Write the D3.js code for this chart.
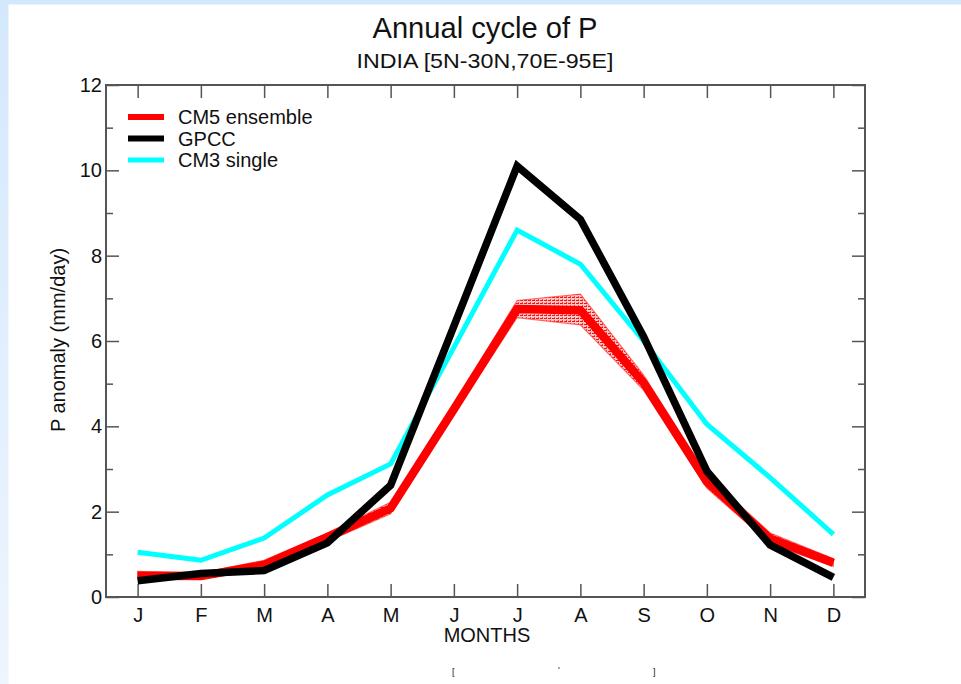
<!DOCTYPE html>
<html>
<head>
<meta charset="utf-8">
<script src="https://cdn.jsdelivr.net/npm/d3@7"></script>
<style>
  html, body { margin: 0; padding: 0; background: #fff; }
  svg { display: block; }
  text { font-family: "Liberation Sans", Arial, sans-serif; fill: #111; }
</style>
</head>
<body>
<svg id="chart" width="961" height="684"></svg>
<script>
// Monthly climatology of precipitation over India (mm/day)
const months = ["J","F","M","A","M","J","J","A","S","O","N","D"];
const monthIndex = [1,2,3,4,5,6,7,8,9,10,11,12];
const yTicks = [0,2,4,6,8,10,12];
const yMinor = [1,3,5,7,9,11];

const gpcc      = [0.38,0.55,0.62,1.27,2.62,6.35,10.1,8.85,6.1,2.95,1.22,0.46];
const cm3Single = [1.05,0.86,1.38,2.39,3.12,5.85,8.6,7.8,6.0,4.05,2.8,1.47];
const cm5Mean   = [0.5,0.49,0.75,1.4,2.08,4.4,6.75,6.72,5.02,2.7,1.37,0.8];
const cm5Low    = [0.43,0.42,0.66,1.3,1.95,4.28,6.55,6.38,4.85,2.55,1.25,0.72];
const cm5High   = [0.6,0.56,0.86,1.5,2.22,4.52,6.95,7.1,5.2,2.86,1.5,0.9];

const legendItems = [
  {label: "CM5 ensemble", color: "#ff0000", width: 6},
  {label: "GPCC",         color: "#000000", width: 6},
  {label: "CM3 single",   color: "#00ffff", width: 5}
];

const svg = d3.select("#chart");
const W = 961, H = 684;

// slide background strips
const defs = svg.append("defs");
const grad = defs.append("linearGradient").attr("id", "sideGrad")
  .attr("x1", 0).attr("y1", 0).attr("x2", 0).attr("y2", 1);
grad.append("stop").attr("offset", "0%").attr("stop-color", "#d4e8fd");
grad.append("stop").attr("offset", "100%").attr("stop-color", "#edf5fe");
svg.append("rect").attr("x", 0).attr("y", 0).attr("width", W).attr("height", H).attr("fill", "#fff");
svg.append("rect").attr("x", 0).attr("y", 0).attr("width", W).attr("height", 4.5).attr("fill", "#d4e8fd");
svg.append("rect").attr("x", 0).attr("y", 0).attr("width", 8.5).attr("height", H).attr("fill", "url(#sideGrad)");

// stipple texture for the ensemble spread
const pat = defs.append("pattern").attr("id", "spread")
  .attr("patternUnits", "userSpaceOnUse").attr("width", 4).attr("height", 3);
pat.append("rect").attr("width", 4).attr("height", 3).attr("fill", "#ffc8c8");
pat.append("rect").attr("x", 0).attr("y", 0).attr("width", 3).attr("height", 1).attr("fill", "#ff1010");
pat.append("rect").attr("x", 2).attr("y", 2).attr("width", 1).attr("height", 1).attr("fill", "#ff4040");

const plotL = 106, plotR = 865, plotT = 85, plotB = 597;
const x = d3.scaleLinear().domain([0.5, 12.5]).range([plotL, plotR]);
const y = d3.scaleLinear().domain([0, 12]).range([plotB, plotT]);

const axisColor = "#555";
const labelSize = 20;

// titles
svg.append("text").attr("x", 485).attr("y", 38).attr("text-anchor", "middle")
  .attr("font-size", 29).attr("textLength", 225).attr("lengthAdjust", "spacingAndGlyphs")
  .text("Annual cycle of P");
svg.append("text").attr("x", 485).attr("y", 68).attr("text-anchor", "middle")
  .attr("font-size", 21).attr("textLength", 257).attr("lengthAdjust", "spacingAndGlyphs")
  .text("INDIA [5N-30N,70E-95E]");

// axes: ticks point inward on all four sides
const g = svg.append("g");
g.append("g").attr("transform", `translate(0,${plotB})`)
  .call(d3.axisBottom(x).tickValues(monthIndex).tickFormat((d, i) => months[i]).tickSize(-13))
  .call(a => a.select(".domain").remove())
  .call(a => a.selectAll("line").attr("stroke", axisColor).attr("stroke-width", 1.5))
  .call(a => a.selectAll("text").attr("font-size", labelSize).attr("fill", "#111").attr("dy", null).attr("y", 25));
g.append("g").attr("transform", `translate(0,${plotT})`)
  .call(d3.axisTop(x).tickValues(monthIndex).tickFormat("").tickSize(-13))
  .call(a => a.select(".domain").remove())
  .call(a => a.selectAll("line").attr("stroke", axisColor).attr("stroke-width", 1.5));
g.append("g").attr("transform", `translate(${plotL},0)`)
  .call(d3.axisLeft(y).tickValues(yTicks).tickFormat(d3.format("d")).tickSize(-13))
  .call(a => a.select(".domain").remove())
  .call(a => a.selectAll("line").attr("stroke", axisColor).attr("stroke-width", 1.5))
  .call(a => a.selectAll("text").attr("font-size", labelSize).attr("fill", "#111").attr("x", -4));
g.append("g").attr("transform", `translate(${plotL},0)`)
  .call(d3.axisLeft(y).tickValues(yMinor).tickFormat("").tickSize(-7))
  .call(a => a.select(".domain").remove())
  .call(a => a.selectAll("line").attr("stroke", axisColor).attr("stroke-width", 1.5));
g.append("g").attr("transform", `translate(${plotR},0)`)
  .call(d3.axisRight(y).tickValues(yTicks).tickFormat("").tickSize(-13))
  .call(a => a.select(".domain").remove())
  .call(a => a.selectAll("line").attr("stroke", axisColor).attr("stroke-width", 1.5));
g.append("g").attr("transform", `translate(${plotR},0)`)
  .call(d3.axisRight(y).tickValues(yMinor).tickFormat("").tickSize(-7))
  .call(a => a.select(".domain").remove())
  .call(a => a.selectAll("line").attr("stroke", axisColor).attr("stroke-width", 1.5));

// frame
svg.append("rect").attr("x", plotL).attr("y", plotT)
  .attr("width", plotR - plotL).attr("height", plotB - plotT)
  .attr("fill", "none").attr("stroke", axisColor).attr("stroke-width", 2);

// axis titles
svg.append("text").attr("x", 487).attr("y", 642).attr("text-anchor", "middle")
  .attr("font-size", 20).text("MONTHS");
svg.append("text").attr("transform", "translate(65,340) rotate(-90)")
  .attr("text-anchor", "middle").attr("font-size", 20).text("P anomaly (mm/day)");

// ensemble spread
const band = d3.area()
  .x((d, i) => x(monthIndex[i]))
  .y0((d, i) => y(cm5Low[i]))
  .y1((d, i) => y(cm5High[i]));
svg.append("path").datum(cm5Mean).attr("d", band)
  .attr("fill", "url(#spread)").attr("stroke", "#ff3030").attr("stroke-width", 1.2).attr("stroke-opacity", 0.7);

const line = d3.line().x((d, i) => x(monthIndex[i])).y(d => y(d));

svg.append("path").datum(cm5Mean).attr("d", line)
  .attr("fill", "none").attr("stroke", "#ff0000").attr("stroke-width", 8.5).attr("stroke-linejoin", "miter");
svg.append("path").datum(cm3Single).attr("d", line)
  .attr("fill", "none").attr("stroke", "#00ffff").attr("stroke-width", 5).attr("stroke-linejoin", "miter");
svg.append("path").datum(gpcc).attr("d", line)
  .attr("fill", "none").attr("stroke", "#000").attr("stroke-width", 7.5).attr("stroke-linejoin", "miter");

// legend
const leg = svg.append("g");
legendItems.forEach((item, i) => {
  const ly = 117 + i * 21.5;
  leg.append("line").attr("x1", 128).attr("x2", 164).attr("y1", ly).attr("y2", ly)
    .attr("stroke", item.color).attr("stroke-width", item.width);
  leg.append("text").attr("x", 178).attr("y", ly + 7).attr("font-size", 20).text(item.label);
});

// faint marks below the plot
const marks = svg.append("g").attr("fill", "#888").attr("font-size", 9);
marks.append("text").attr("x", 452).attr("y", 675).text("[");
marks.append("text").attr("x", 558).attr("y", 673).text("'");
marks.append("text").attr("x", 653).attr("y", 675).text("]");
</script>
</body>
</html>
